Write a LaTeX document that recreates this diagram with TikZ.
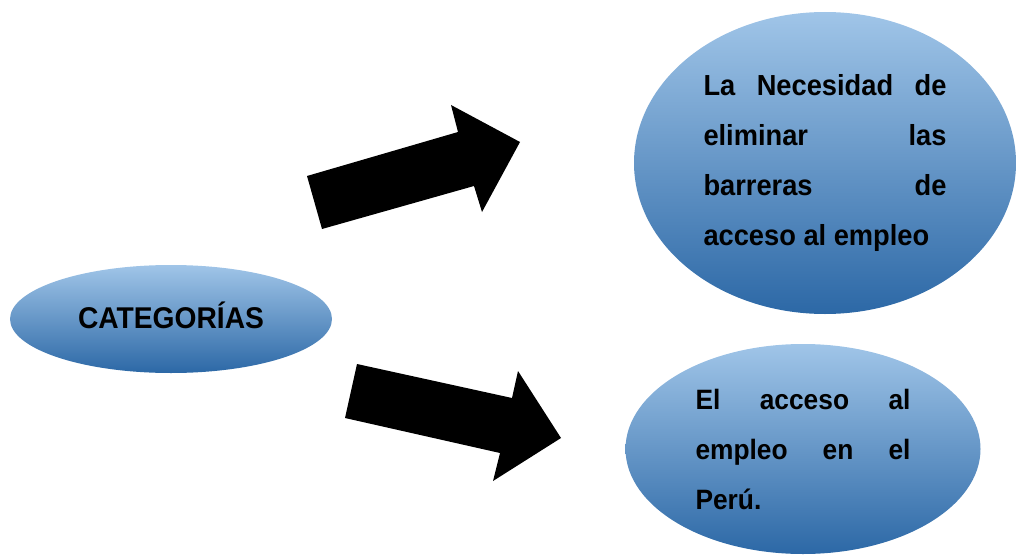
\documentclass[tikz,border=0pt]{standalone}
\usepackage{fontspec}
\setmainfont{Liberation Sans}[FakeStretch=0.94]
\usepackage{tikz}
\usetikzlibrary{positioning,calc,shapes.geometric}
\usepackage{xcolor}
\definecolor{ovaltop}{RGB}{160,197,232}
\definecolor{ovalmid}{RGB}{104,160,216}
\definecolor{ovalbot}{RGB}{44,104,166}

\begin{document}
\begin{tikzpicture}[
    x=1pt,y=-1pt,
    oval/.style={ellipse,inner sep=0pt,draw=none,
                 top color=ovaltop,middle color=ovalmid,bottom color=ovalbot},
    bigarrow/.style={fill=black,draw=none},
    txt/.style={font=\bfseries\fontsize{29}{50}\selectfont,align=justify}
]
  \useasboundingbox (0,0) rectangle (1019,559);

  % The three ovals: the category on the left, its two parts on the right.
  \node[oval,minimum width=322pt,minimum height=108pt,
        font=\bfseries\fontsize{30}{36}\selectfont] (cat) at (171,319)
    {\raisebox{8pt}{CATEGORÍAS}};
  \node[oval,txt,minimum width=382pt,minimum height=302pt,
        text width=243pt] (barreras) at (825,163)
    {La Necesidad de\linebreak eliminar las\linebreak barreras de\linebreak
     acceso al empleo};
  \node[oval,txt,minimum width=355pt,minimum height=210pt,
        text width=215pt,font=\bfseries\fontsize{28}{50}\selectfont] (peru) at (803,449)
    {El acceso al\linebreak empleo en el\linebreak Perú.};

  % Block arrows from the category towards both ovals.
  \fill[bigarrow] (307,176) -- (458,132) -- (451,105) -- (520,142)
    -- (482,212) -- (474,186) -- (322,229) -- cycle;
  \fill[bigarrow] (357,364) -- (512,398) -- (518,371) -- (561,438)
    -- (493,481) -- (500,453) -- (345,418) -- cycle;
\end{tikzpicture}
\end{document}
